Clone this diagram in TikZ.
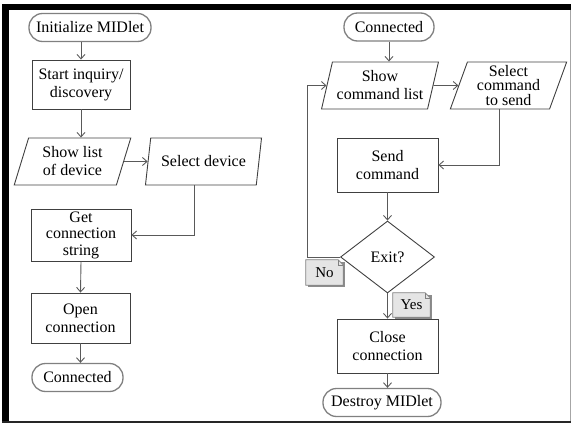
\documentclass[tikz,border=0pt]{standalone}
\usepackage{fontspec}
\setmainfont{Liberation Serif}
\usetikzlibrary{shapes.geometric,arrows.meta,backgrounds}
\begin{document}
\begin{tikzpicture}[x=1pt,y=-1pt,
  every node/.style={font=\rmfamily\fontsize{16}{18}\selectfont, text=black, align=center, inner sep=1pt},
  procbox/.style={draw=black!75, line width=0.9pt, rectangle},
  termbox/.style={draw=black!50, line width=1.3pt, rectangle, rounded corners=13.5pt, minimum height=28},
  iobox/.style={draw=black!75, line width=0.9pt, trapezium, trapezium left angle=72, trapezium right angle=108,
     trapezium stretches=true, minimum width=117, minimum height=47},
  decbox/.style={draw=black!75, line width=0.9pt, diamond, minimum width=94, minimum height=72, aspect=1.3, inner sep=0pt},
  notelbl/.style={rectangle, inner sep=0pt, font=\rmfamily\fontsize{15}{17}\selectfont},
  conn/.style={draw=black!65, line width=0.9pt, -{Straight Barb[length=4.5pt,width=8pt]}},
  line/.style={draw=black!65, line width=0.9pt}
]
\useasboundingbox (0,0) rectangle (571,423);
% frame
\fill[black] (2,3.5) rectangle (8.5,422);
\fill[black] (2,3.5) rectangle (571,9.5);
\draw[black!35, line width=0.8pt] (570,9.5) -- (570,421);
\fill[black!85] (2,421.3) rectangle (571,423);

% left column
\node[termbox, minimum width=122] (init) at (90,27.5) {Initialize MIDlet};
\node[procbox, minimum width=98, minimum height=49] (start) at (81,84.5) {Start inquiry/\\discovery};
\node[iobox] (showlist) at (72.5,161.5) {Show list\\of device};
\node[iobox] (seldev) at (203.5,161.5) {Select device};
\node[procbox, minimum width=100, minimum height=52, font=\rmfamily\fontsize{16}{16.5}\selectfont] (get) at (81,235) {Get\\connection\\string};
\node[procbox, minimum width=99, minimum height=50] (open) at (80.5,318) {Open\\connection};
\node[termbox, minimum width=91] (conn1) at (77.5,377.5) {Connected};

\draw[conn] (init.south -| start.north) -- (start.north);
\draw[conn] (start.south) -- (start.south |- showlist.north);
\draw[conn] (showlist.east) -- (seldev.west);
\draw[conn] ([xshift=-9.5pt]seldev.south) |- (get.east);
\draw[conn] (get.south) -- (open.north);
\draw[conn] (open.south) -- (open.south |- conn1.north);

% right column
\node[termbox, minimum width=90] (conn2) at (389,27) {Connected};
\node[iobox] (showcmd) at (380,85.5) {Show\\command list};
\node[iobox, font=\rmfamily\fontsize{16}{14.2}\selectfont] (selcmd) at (508.5,85.5) {Select\\command\\to send};
\node[procbox, minimum width=101, minimum height=54] (send) at (387.5,165) {Send\\command};
\node[decbox] (exit) at (387.5,257) {Exit?};
\node[procbox, minimum width=101, minimum height=54] (close) at (387.5,346) {Close\\connection};
\node[termbox, minimum width=118] (destroy) at (382,402.5) {Destroy MIDlet};

\draw[conn] (conn2.south) -- (conn2.south |- showcmd.north);
\draw[conn] (showcmd.east) -- (selcmd.west);
\draw[conn] ([xshift=-9.5pt]selcmd.south) |- (send.east);
\draw[conn] (send.south) -- (exit.north);
\coordinate (loopx) at (307,257);
\draw[conn] (exit.west) -- (loopx) |- (showcmd.west);
\draw[conn] (exit.south) -- (close.north);
\draw[conn] (close.south) -- (close.south |- destroy.north);

% labels
\node[notelbl, minimum width=37, minimum height=25] (no) at (324.5,272.5) {No};
\node[notelbl, minimum width=37, minimum height=24] (yes) at (411.5,305) {Yes};
\begin{scope}[on background layer]
  \foreach \n in {no,yes}{
    \fill[black!45] ([shift={(2,2)}]\n.north west) rectangle ([shift={(2,2)}]\n.south east);
    \filldraw[fill=black!10, draw=black!50, line width=0.7pt]
      (\n.south west) -- (\n.north west) -- ([xshift=-5pt]\n.north east)
      -- ([yshift=-5pt]\n.north east) -- (\n.south east) -- cycle;
    \draw[black!50, line width=0.6pt] ([xshift=-5pt]\n.north east) -- ([xshift=-5pt,yshift=-5pt]\n.north east)
      -- ([yshift=-5pt]\n.north east);
  }
\end{scope}
\end{tikzpicture}
\end{document}
